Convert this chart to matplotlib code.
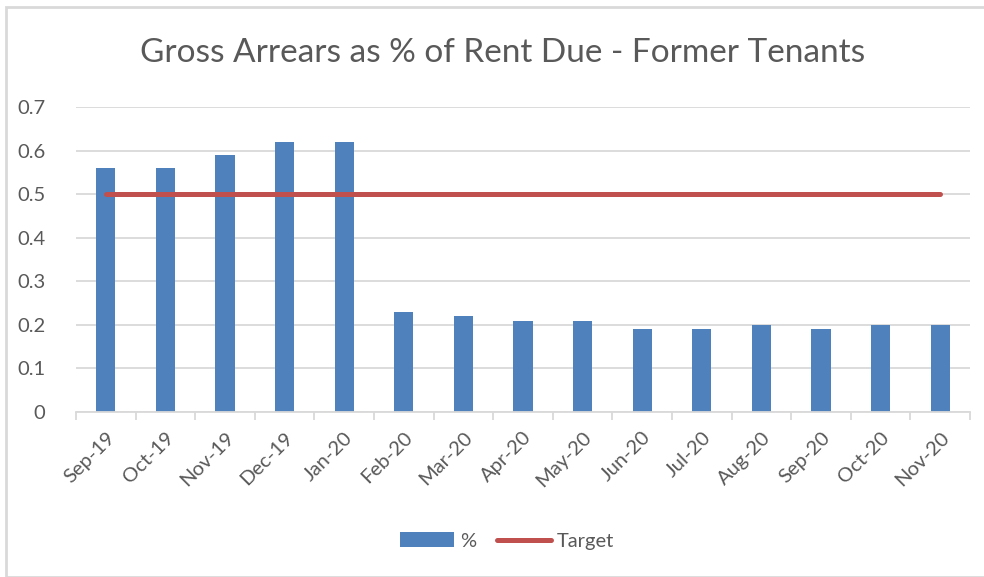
import numpy as np
import matplotlib.pyplot as plt
from matplotlib.patches import Rectangle

# Data
months = ['Sep-19', 'Oct-19', 'Nov-19', 'Dec-19', 'Jan-20', 'Feb-20', 'Mar-20',
          'Apr-20', 'May-20', 'Jun-20', 'Jul-20', 'Aug-20', 'Sep-20', 'Oct-20', 'Nov-20']
pct = [0.56, 0.56, 0.59, 0.62, 0.62, 0.23, 0.22, 0.21, 0.21, 0.19, 0.19, 0.20, 0.19, 0.20, 0.20]
target = [0.5] * len(months)

plt.rcParams['font.family'] = ['Lato', 'DejaVu Sans']
text_col = '#595959'
grid_col = '#d9d9d9'

fig = plt.figure(figsize=(9.84, 5.77), dpi=100)
# outer chart border
fig.patches.append(Rectangle((6 / 984, 0), 1, 1 - 7 / 577, transform=fig.transFigure,
                             fill=False, edgecolor='#d9d9d9', linewidth=2))

ax = fig.add_axes([76 / 984, (577 - 412) / 577, (970 - 76) / 984, (412 - 107) / 577])
x = np.arange(len(months))
bars = ax.bar(x, pct, width=0.32, color='#4f81bd', label='%', zorder=2)
line, = ax.plot(x, target, color='#c0504d', linewidth=3.6, solid_capstyle='round',
                label='Target', zorder=3)

ax.set_xlim(-0.5, len(months) - 0.5)
ax.set_ylim(0, 0.7)
ax.set_yticks(np.arange(0, 0.71, 0.1))
ax.set_yticklabels(['0', '0.1', '0.2', '0.3', '0.4', '0.5', '0.6', '0.7'])
ax.yaxis.grid(True, color=grid_col, linewidth=1.3, zorder=0)
ax.set_axisbelow(True)
for s in ['top', 'right', 'left']:
    ax.spines[s].set_visible(False)
ax.spines['bottom'].set_color(grid_col)
ax.spines['bottom'].set_linewidth(1.3)
ax.tick_params(axis='y', length=0, labelsize=14.5, labelcolor=text_col, pad=22)

ax.set_xticks(x)
ax.set_xticklabels(months, rotation=45, ha='right', rotation_mode='anchor')
ax.set_xticks(np.arange(-0.5, len(months), 1), minor=True)
ax.tick_params(axis='x', which='major', length=0, labelsize=14.5, labelcolor=text_col, pad=12)
ax.tick_params(axis='x', which='minor', length=6, color=grid_col, width=1.3)

fig.text(503 / 984, 1 - 53 / 577, 'Gross Arrears as % of Rent Due - Former Tenants',
         ha='center', va='center', fontsize=24, color=text_col)

leg = fig.legend([bars, line], ['%', 'Target'], loc='center',
                 bbox_to_anchor=(507 / 984, 1 - 541 / 577), ncol=2,
                 frameon=False, fontsize=14.5, handlelength=2.7, handleheight=0.7,
                 handletextpad=0.3, columnspacing=1.0)
for t in leg.get_texts():
    t.set_color(text_col)

fig.savefig('out.png', dpi=100)
